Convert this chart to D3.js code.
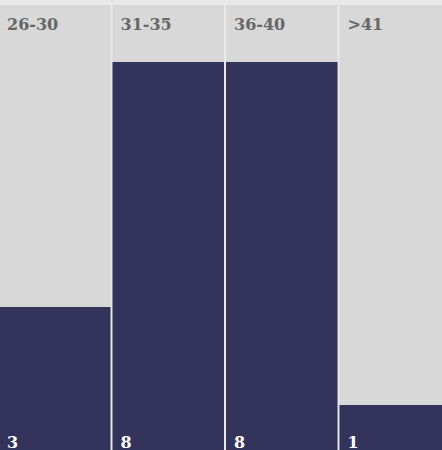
<!DOCTYPE html>
<html>
<head>
<meta charset="utf-8">
<script src="https://cdn.jsdelivr.net/npm/d3@7"></script>
<style>
  html, body { margin: 0; padding: 0; background: #e8e8e8; overflow: hidden; }
  svg { display: block; }
  text { font-family: "DejaVu Serif", serif; font-weight: bold; font-size: 16px; }
</style>
</head>
<body>
<svg id="chart" width="442" height="450"></svg>
<script>
const categories = ['26-30', '31-35', '36-40', '>41'];
const counts = [3, 8, 8, 1];

const svg = d3.select('#chart');
const colTop = 5;

const x = d3.scaleBand()
  .domain(categories)
  .range([-1, 453]);

const y = d3.scaleLinear()
  .domain([0, d3.max(counts)])
  .range([454, 62]);

const cols = svg.selectAll('g.col')
  .data(categories)
  .enter()
  .append('g')
  .attr('class', 'col')
  .attr('transform', d => `translate(${x(d)},0)`);

cols.append('rect')
  .attr('y', colTop)
  .attr('width', x.bandwidth() - 2)
  .attr('height', 460)
  .style('fill', '#d8d8d8');

cols.append('rect')
  .attr('y', (d, i) => y(counts[i]))
  .attr('width', x.bandwidth() - 2)
  .attr('height', (d, i) => y(0) - y(counts[i]))
  .style('fill', '#33335b');

cols.append('text')
  .attr('x', 8)
  .attr('y', 29.5)
  .style('fill', '#676767')
  .text(d => d);

cols.append('text')
  .attr('x', 8)
  .attr('y', 448)
  .style('fill', '#ffffff')
  .text((d, i) => counts[i]);
</script>
</body>
</html>
